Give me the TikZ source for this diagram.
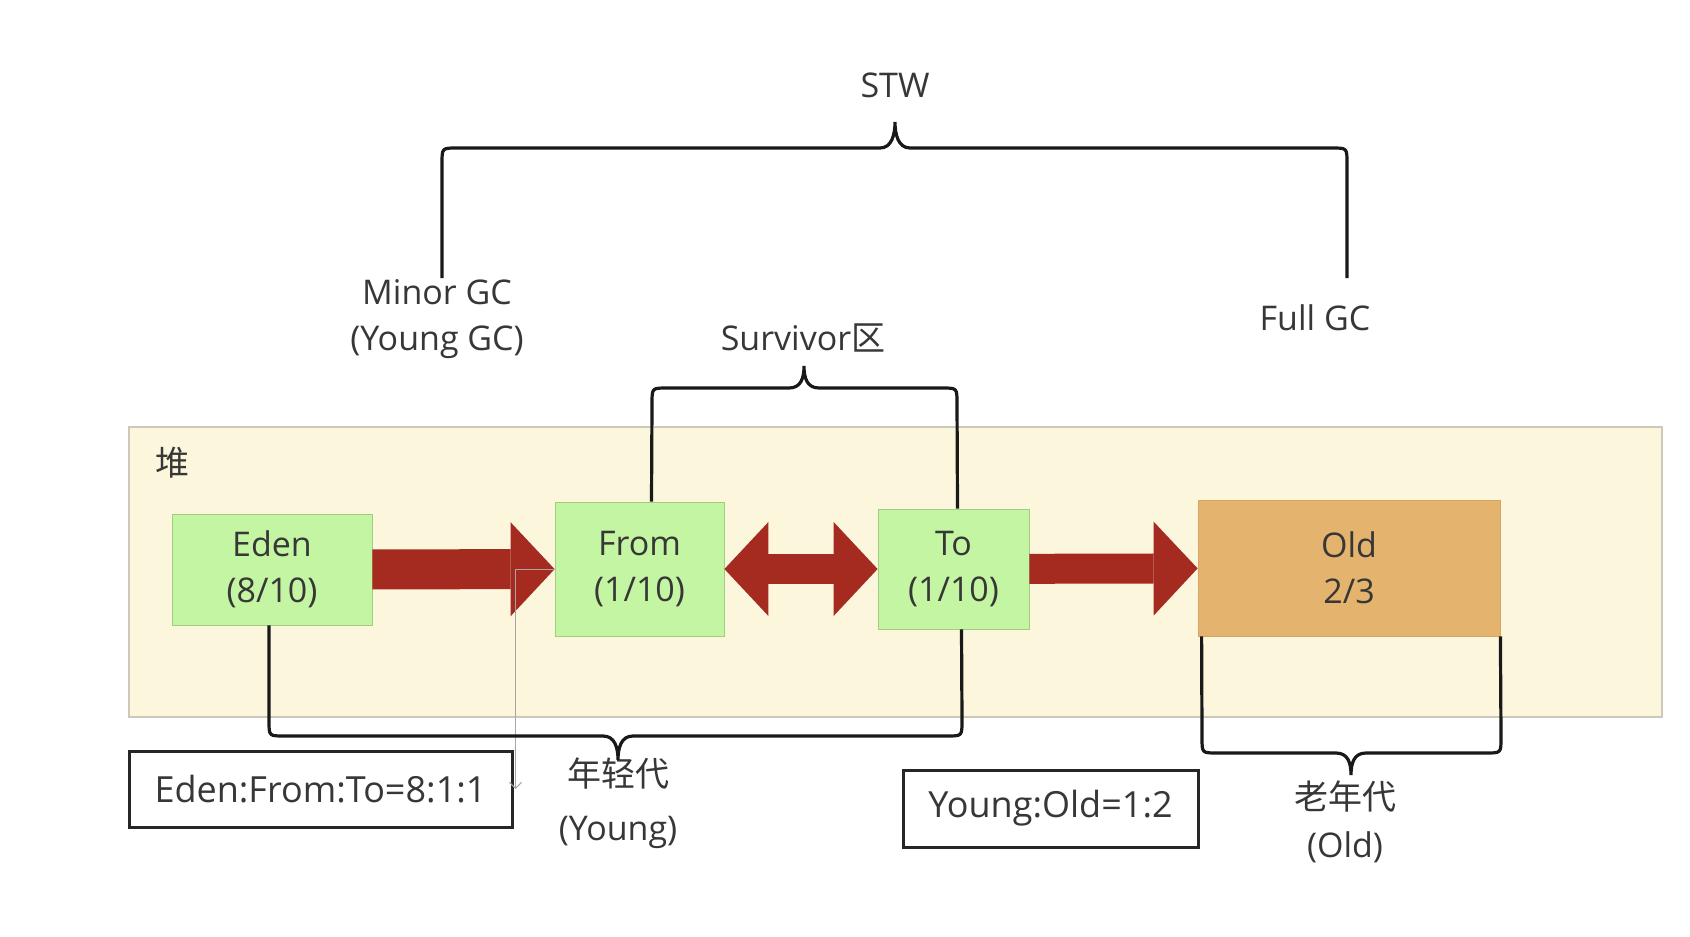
\documentclass[tikz,border=0pt]{standalone}
\usepackage{fontspec}
\setmainfont{Open Sans}
\newfontfamily\cjk{Noto Sans CJK SC}
\usepackage{tikz}
\usetikzlibrary{%
  arrows.meta,% wg. Triangle[length=..,width=..]
  positioning%
}
\definecolor{heapbg}{RGB}{252,247,220}
\definecolor{heapline}{RGB}{205,200,185}
\definecolor{spacegreen}{RGB}{196,245,162}
\definecolor{greenline}{RGB}{160,205,130}
\definecolor{oldorange}{RGB}{228,180,110}
\definecolor{arrowred}{RGB}{165,42,32}
\definecolor{textgray}{RGB}{55,55,55}

\begin{document}
\begin{tikzpicture}[x=0.5pt, y=-0.5pt,
  every node/.style = {text=textgray, font=\fontsize{17}{23}\selectfont, align=center},
  Space/.style = {draw=greenline, fill=spacegreen, inner sep=0pt},
  Ratio/.style = {draw=black!85, line width=1.5pt, inner sep=0pt, font=\fontsize{18}{22}\selectfont},
  Brace/.style = {draw=black!90, line width=1.6pt},
  FatTip/.style = {arrowred, line width=#1, -{Triangle[length=22pt, width=47pt, line width=0pt]}},
  FatTwin/.style = {arrowred, line width=#1, {Triangle[length=22pt, width=47pt, line width=0pt]}-{Triangle[length=22pt, width=47pt, line width=0pt]}}
]
  \useasboundingbox[fill=white] (0,0) rectangle (1690,936);

  % the heap
  \node[draw=heapline, fill=heapbg, line width=1pt, minimum width=766.5pt, minimum height=145pt] (heap) at (895.5,572) {};
  \node (heapname) at (172,463) {\cjk 堆};

  % spaces of the heap
  \node[Space, minimum width=100pt, minimum height=55.5pt] (Eden) at (272,569.5) {Eden\\(8/10)};
  \node[Space, minimum width=84.5pt, minimum height=67pt] (From) at (639.5,569) {From\\(1/10)};
  \node[Space, minimum width=75.5pt, minimum height=60pt] (To) at (953.5,569) {To\\(1/10)};
  \node[Space, fill=oldorange, draw=oldorange!92!black, minimum width=151pt, minimum height=68pt] (Old) at (1349,568) {Old\\2/3};

  % ratios
  \node[Ratio, minimum width=191.5pt, minimum height=38pt] (EdenRatio) at (320.5,789) {Eden:From:To=8:1:1};
  \node[Ratio, minimum width=147.5pt, minimum height=38.5pt] (GenRatio) at (1050.5,808.5) {Young:Old=1:2};

  % labels
  \node (STW) at (895,85) {STW};
  \node (MinorGC) at (437,319) {Minor GC\\(Young GC)};
  \node (FullGC) at (1315,318) {Full GC};
  \node (SurvivorName) at (803,338) {Survivor{\cjk 区}};
  \node (YoungName) at (618,803) {{\cjk 年轻代}\\[4pt](Young)};
  \node (OldName) at (1345,822) {{\cjk 老年代}\\[1pt](Old)};
  \coordinate (minorTop) at (442,278);
  \coordinate (fullTop) at (1347,278);

  % fat arrows
  \draw[FatTip=20pt] (Eden) -- (From);
  \draw[FatTwin=15pt] (From) -- (To);
  \draw[FatTip=15pt] (To) -- (Old);

  % thin grey line
  \draw[black!35, line width=0.5pt, -{Straight Barb[length=3pt]}] (From.west) -| ([xshift=1pt]EdenRatio.east);

  % braces
  \draw[Brace] (minorTop) -- (442,163) .. controls (442,148) .. (457,148) -- (880,148)
    .. controls (892,148) and (895,134) .. (895,122) .. controls (895,134) and (898,148) .. (910,148)
    -- (1332,148) .. controls (1347,148) .. (1347,163) -- (fullTop);
  \draw[Brace] ([xshift=6pt]From.north) -- (652,403) .. controls (652,388) .. (667,388) -- (789,388)
    .. controls (801,388) and (804,378) .. (804,366) .. controls (804,378) and (807,388) .. (819,388)
    -- (942,388) .. controls (957,388) .. (957,403) -- ([xshift=2pt]To.north);
  \draw[Brace] ([xshift=-1.5pt]Eden.south) -- (269,721) .. controls (269,736) .. (284,736) -- (603,736)
    .. controls (615,736) and (618,748) .. (618,760) .. controls (618,748) and (621,736) .. (633,736)
    -- (947,736) .. controls (962,736) .. (962,721) -- ([xshift=4pt]To.south);
  \draw[Brace] ([xshift=2pt]Old.south west) -- (1202,738) .. controls (1202,753) .. (1217,753) -- (1336,753)
    .. controls (1348,753) and (1351,763) .. (1351,775) .. controls (1351,763) and (1354,753) .. (1366,753)
    -- (1486,753) .. controls (1501,753) .. (1501,738) -- (Old.south east);
\end{tikzpicture}
\end{document}
